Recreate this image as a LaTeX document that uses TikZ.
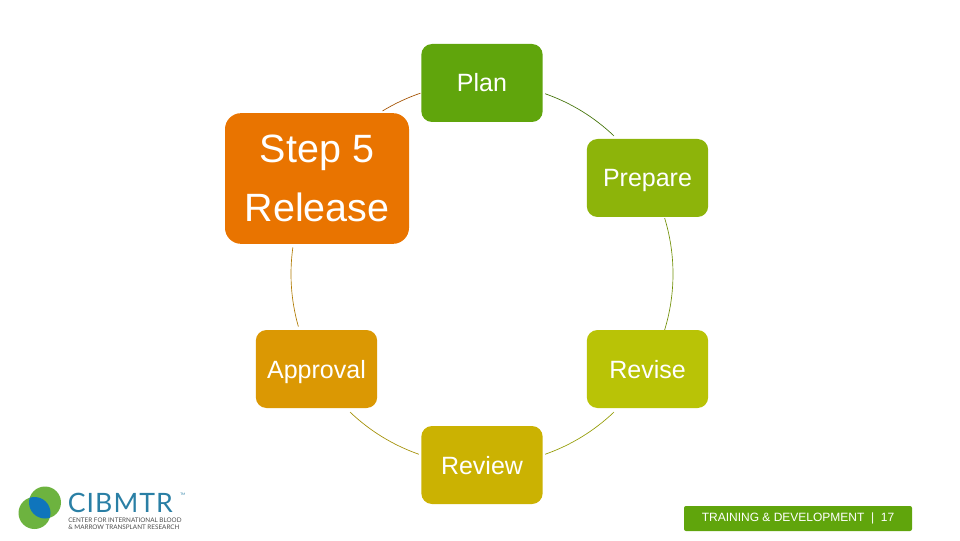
\documentclass[tikz,border=0pt]{standalone}
\usepackage{fontspec}
\setmainfont{Liberation Sans}
\newfontfamily\logofont{Lato}
\newfontfamily\logowide[LetterSpace=4]{Lato}
\usetikzlibrary{calc}
\definecolor{planc}{HTML}{60A50C}
\definecolor{prepc}{HTML}{8DB40A}
\definecolor{revc}{HTML}{B9C306}
\definecolor{reviewc}{HTML}{CBB202}
\definecolor{apprc}{HTML}{DB9803}
\definecolor{relc}{HTML}{E97400}
\definecolor{logoteal}{HTML}{2A7FA5}
\definecolor{logogreen}{HTML}{6DB33F}
\definecolor{logoblue}{HTML}{0F75BC}
\tikzset{
  stepbox/.style={rounded corners=8pt, minimum width=91pt, minimum height=58.5pt, inner sep=0pt,
    text=white, align=center, font=\fontsize{18.75}{22}\selectfont},
  steplabel/.style={text height=13.5pt, text depth=0pt},
  ringline/.style={line width=0.5pt}
}

\begin{document}
\begin{tikzpicture}[x=0.75pt, y=0.75pt]
    \useasboundingbox (0,0) rectangle (960,540);
    \coordinate (ring) at (482,266);

    % boxes round the ring
    \node[stepbox, steplabel, fill=planc] (plan) at (482,457) {Plan};
    \node[stepbox, steplabel, fill=prepc] (prepare) at (647.5,362) {Prepare};
    \node[stepbox, steplabel, fill=revc] (revise) at (647.5,171) {Revise};
    \node[stepbox, steplabel, fill=reviewc] (review) at (482,75) {Review};
    \node[stepbox, steplabel, fill=apprc] (approval) at (316.5,171) {Approval};
    \node[stepbox, fill=relc, rounded corners=12pt, minimum width=138pt, minimum height=98pt,
      font=\fontsize{29.6}{44.25}\selectfont] (release) at (317,361.5) {Step 5\\Release};

    % ring segments
    \foreach \nr/\start/\stop/\col in {1/70.7/46.3/planc!70!black, 2/17/-17/prepc!80!black,
        3/-46.3/-70.7/revc!80!black, 4/-109.3/-133.7/reviewc!80!black,
        5/-164/-188/apprc!80!black, 6/121.4/108.8/relc!70!black} {
      \coordinate (arc\nr) at ($(ring)+(\start:191)$);
      \draw[ringline, draw=\col] (arc\nr) arc[start angle=\start, end angle=\stop, radius=191];
    }

    % logo
    \begin{scope}
      \fill[logogreen] (45,37.5) circle (16);
      \fill[logogreen] (34.5,27) circle (16);
      \clip (45,37.5) circle (16);
      \fill[logoblue] (34.5,27) circle (16);
    \end{scope}
    \node[anchor=west, inner sep=0pt, text=logoteal, font=\logowide\fontsize{20}{20}\selectfont] (logoname) at (67.5,37.5) {CIBMTR};
    \node[anchor=west, inner sep=0pt, text=logoteal, font=\logofont\fontsize{2.5}{3}\selectfont] (logotm) at (180,46) {TM};
    \node[anchor=west, inner sep=0pt, text=black!70, align=left, font=\logofont\fontsize{4.75}{5.2}\selectfont] (logosub) at (68,16.5) {CENTER FOR INTERNATIONAL BLOOD\\\&~MARROW TRANSPLANT RESEARCH};

    % footer
    \node[fill=planc, rounded corners=1.5pt, minimum width=171pt, minimum height=18.75pt, inner sep=0pt,
      text=white, font=\fontsize{9}{11}\selectfont] (footer) at (798,21.5) {TRAINING \& DEVELOPMENT~~|~~17};
\end{tikzpicture}
\end{document}
